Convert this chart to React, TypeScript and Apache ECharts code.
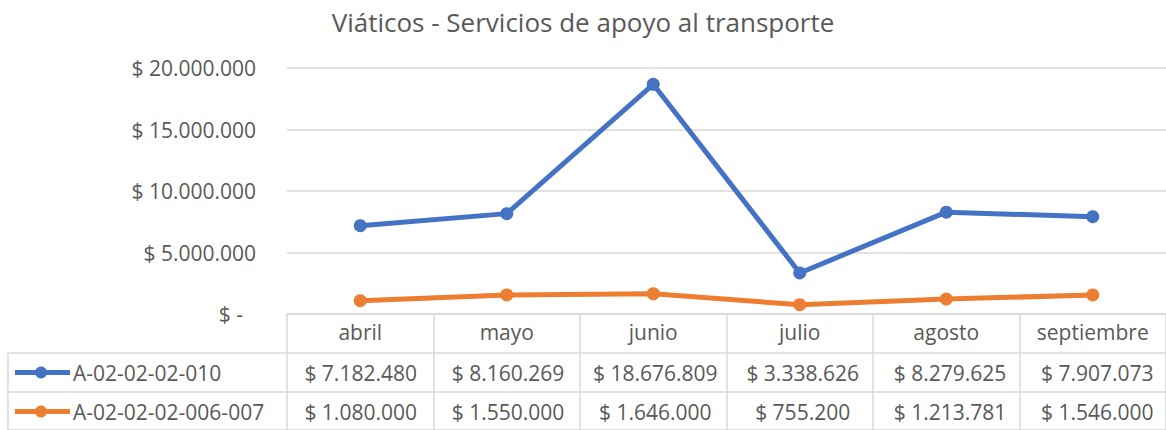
import React, { useEffect, useRef } from "react";
import * as echarts from "echarts";

const title = "Viáticos - Servicios de apoyo al transporte";
const categories = ["abril", "mayo", "junio", "julio", "agosto", "septiembre"];
const seriesNames = ["A-02-02-02-010", "A-02-02-02-006-007"];
const seriesA = [7182480, 8160269, 18676809, 3338626, 8279625, 7907073];
const seriesB = [1080000, 1550000, 1646000, 755200, 1213781, 1546000];
const yTicks = [0, 5000000, 10000000, 15000000, 20000000];

const COLORS = ["#4472C4", "#ED7D31"];
const TEXT = "#595959";
const GRID = "#D9D9D9";
const FONT = "'Open Sans', 'Noto Sans', sans-serif";

const fmt = (n: number) => "$ " + String(Math.round(n)).replace(/\B(?=(\d{3})+(?!\d))/g, ".");

export default function App() {
  const ref = useRef<HTMLDivElement>(null);
  useEffect(() => {
    document.body.style.margin = "0";
    const chart = echarts.init(ref.current!, null, { renderer: "svg" });
    const W = 1166;
    const plotLeft = 287;
    const gridRight = -5;
    const plotRight = W - gridRight;
    const colW = (plotRight - plotLeft) / categories.length;
    const axisY = 314;
    const row1 = 353;
    const row2 = 392;
    const row3 = 431;
    const fs = 21;

    const graphics: any[] = [];
    [row1, row2, row3 - 1].forEach((y) =>
      graphics.push({
        type: "line",
        shape: { x1: 8, y1: y, x2: W, y2: y },
        style: { stroke: GRID, lineWidth: 1.5 },
        silent: true,
      })
    );
    graphics.push({
      type: "line",
      shape: { x1: 8, y1: row1, x2: 8, y2: row3 },
      style: { stroke: GRID, lineWidth: 1.5 },
    });
    const rows = [seriesA, seriesB];
    rows.forEach((vals, r) => {
      const cy = r === 0 ? (row1 + row2) / 2 : (row2 + row3) / 2;
      graphics.push({
        type: "line",
        shape: { x1: 15, y1: cy, x2: 70, y2: cy },
        style: { stroke: COLORS[r], lineWidth: 5 },
      });
      graphics.push({
        type: "circle",
        shape: { cx: 41, cy, r: 6 },
        style: { fill: COLORS[r] },
      });
      graphics.push({
        type: "text",
        x: 73,
        y: cy,
        style: {
          text: seriesNames[r],
          fill: TEXT,
          font: `${fs}px ${FONT}`,
          textAlign: "left",
          textVerticalAlign: "middle",
        },
      });
      vals.forEach((v, i) => {
        graphics.push({
          type: "text",
          x: plotLeft + (i + 0.5) * colW,
          y: cy,
          style: {
            text: fmt(v),
            fill: TEXT,
            font: `${fs}px ${FONT}`,
            textAlign: "center",
            textVerticalAlign: "middle",
          },
        });
      });
    });

    chart.setOption({
      animation: false,
      title: {
        text: title,
        left: "center",
        top: 4,
        textStyle: { color: TEXT, fontFamily: FONT, fontSize: 26, fontWeight: "normal" },
      },
      grid: { left: plotLeft, right: gridRight, top: 68, bottom: 430 - axisY },
      xAxis: {
        type: "category",
        data: categories,
        boundaryGap: true,
        axisLine: { show: true, lineStyle: { color: GRID, width: 1.5 } },
        axisTick: { show: true, length: 430 - axisY, lineStyle: { color: GRID, width: 1.5 } },
        axisLabel: {
          color: TEXT,
          fontFamily: FONT,
          fontSize: fs,
          margin: 7,
        },
      },
      yAxis: {
        type: "value",
        min: yTicks[0],
        max: yTicks[yTicks.length - 1],
        interval: yTicks[1] - yTicks[0],
        axisLine: { show: false },
        axisTick: { show: false },
        splitLine: { lineStyle: { color: GRID, width: 1.5 } },
        axisLabel: {
          color: TEXT,
          fontFamily: FONT,
          fontSize: fs,
          margin: 31,
          formatter: (v: number) => (v === 0 ? "{z|$ -}" : fmt(v)),
          rich: { z: { color: TEXT, fontFamily: FONT, fontSize: fs, padding: [0, 13, 0, 0] } },
        },
      },
      series: [seriesA, seriesB].map((d, i) => ({
        type: "line",
        name: seriesNames[i],
        data: d,
        symbol: "circle",
        symbolSize: 13,
        lineStyle: { color: COLORS[i], width: 5 },
        itemStyle: { color: COLORS[i] },
        z: 10 - i,
      })),
      graphic: graphics,
    });
    return () => chart.dispose();
  }, []);
  return <div ref={ref} style={{ width: 1166, height: 430, position: "absolute", left: 0, top: 0 }} />;
}
